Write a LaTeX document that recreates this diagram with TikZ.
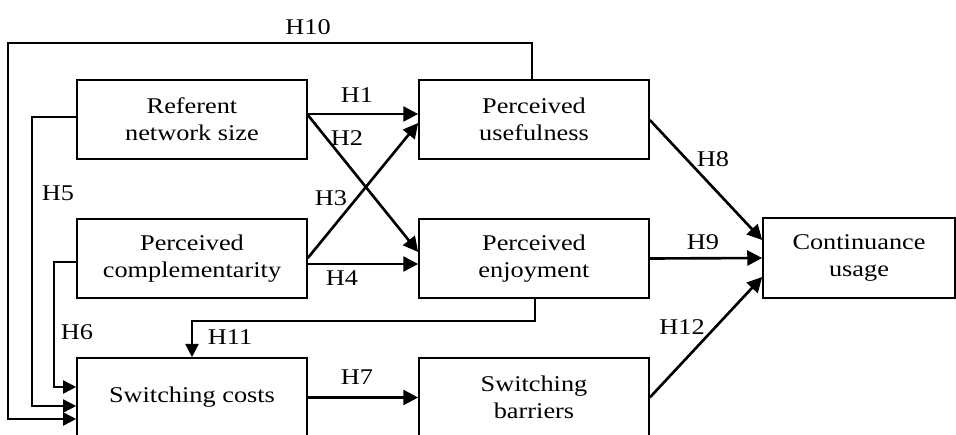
\documentclass[tikz,border=0pt]{standalone}
\usepackage{fontspec}
\setmainfont{Liberation Serif}[FakeStretch=1.17]
\usepackage{tikz}
\usetikzlibrary{arrows.meta, positioning, calc}
\tikzset{
  block/.style={rectangle, draw=black, line width=0.95pt,
    minimum width=4.6cm, minimum height=1.58cm, align=center,
    inner sep=0pt, font=\fontsize{12.8}{15.3}\selectfont},
  hlab/.style={inner sep=0pt, font=\fontsize{12.8}{15.3}\selectfont},
  arrow/.style={-{Triangle[length=8.5pt, width=8.5pt]}, line width=1.5pt, color=black},
  line/.style={-{Triangle[length=7.5pt, width=7.5pt]}, line width=0.95pt, color=black}
}

\begin{document}
\begin{tikzpicture}[x=0.02cm, y=-0.02cm]
    \useasboundingbox (0,0) rectangle (956,435);

    % Boxes
    \node[block] (ref)  at (192,119.5) {Referent\\network size};
    \node[block] (pu)   at (534,119.5) {Perceived\\usefulness};
    \node[block] (comp) at (192,258.5) {Perceived\\complementarity};
    \node[block] (pe)   at (534,258.5) {Perceived\\enjoyment};
    \node[block] (sc)   at (192,397.5) {Switching costs};
    \node[block] (sb)   at (534,397.5) {Switching\\barriers};
    \node[block, minimum width=3.84cm, minimum height=1.6cm] (cu) at (859,258) {Continuance\\usage};

    % Paths into perceived usefulness / enjoyment
    \draw[arrow] ($(ref.east)+(0,-5.5)$) -- ($(pu.west)+(0,-5.5)$);
    \draw[arrow] ($(ref.east)+(0,-4.5)$) -- ($(pe.west)+(0,-6.5)$);
    \draw[arrow] ($(comp.east)+(0,-0.5)$) -- ($(pu.west)+(0,3.5)$);
    \draw[arrow] ($(comp.east)+(0,5.5)$) -- ($(pe.west)+(0,5.5)$);
    \node[hlab] (h1) at (357,95) {H1};
    \node[hlab] (h2) at (347,138) {H2};
    \node[hlab] (h3) at (331,198) {H3};
    \node[hlab] (h4) at (342,278) {H4};

    % Paths into switching costs
    \coordinate (c5a) at (32,117);
    \coordinate (c5b) at (32,406);
    \draw[line] ($(ref.west)+(0,-2.5)$) -- (c5a) -- (c5b) -- (c5b -| sc.west);
    \coordinate (c6a) at (54,262);
    \coordinate (c6b) at (54,387);
    \draw[line] ($(comp.west)+(0,3.5)$) -- (c6a) -- (c6b) -- (c6b -| sc.west);
    \coordinate (c10a) at (532,43);
    \coordinate (c10b) at (8,43);
    \coordinate (c10c) at (8,419);
    \draw[line] (c10a |- pu.north) -- (c10a) -- (c10b) -- (c10c) -- (c10c -| sc.west);
    \coordinate (c11a) at (535,321);
    \coordinate (c11b) at (192,321);
    \draw[line] (c11a |- pe.south) -- (c11a) -- (c11b) -- (sc.north);
    \node[hlab] (h5)  at (58,193) {H5};
    \node[hlab] (h6)  at (77,332) {H6};
    \node[hlab] (h10) at (308,27) {H10};
    \node[hlab] (h11) at (230,337) {H11};

    % Switching barriers
    \draw[arrow] (sc.east) -- (sb.west);
    \node[hlab] (h7) at (357,377) {H7};

    % Paths into continuance usage
    \draw[arrow] ($(pu.east)+(0,0.5)$) -- ($(cu.west)+(0,-18)$);
    \draw[arrow] (pe.east) -- (cu.west);
    \draw[arrow] (sb.east) -- ($(cu.west)+(0,19)$);
    \node[hlab] (h8)  at (713,159) {H8};
    \node[hlab] (h9)  at (703,242) {H9};
    \node[hlab] (h12) at (682,327) {H12};
  \end{tikzpicture}
\end{document}
